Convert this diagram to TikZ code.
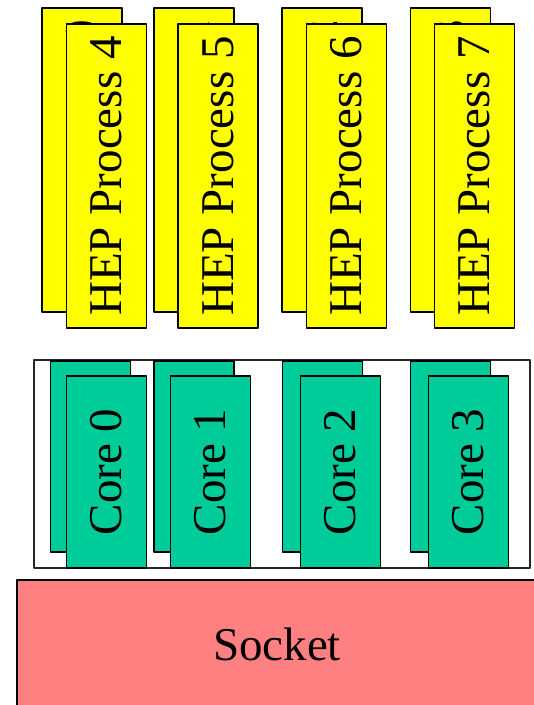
\documentclass[tikz,border=0pt]{standalone}
\usepackage{fontspec}
\setmainfont{Liberation Serif}
\definecolor{hepyellow}{RGB}{255,255,0}
\definecolor{coregreen}{RGB}{0,204,153}
\definecolor{socketred}{RGB}{255,128,128}
\begin{document}
\begin{tikzpicture}[
        x=1pt, y=-1pt,
        line join=round,
        % 卡片样式
        card/.style={draw=black, line width=1.5pt, inner sep=0pt, rotate=90,
            minimum height=80pt, font=\fontsize{47}{50}\selectfont},
        hep/.style={card, fill=hepyellow, minimum width=304pt},
        core/.style={card, fill=coregreen, minimum width=191pt},
        chip/.style={draw=black!85, line width=1.5pt, fill=white, inner sep=0pt,
            minimum width=496pt, minimum height=208pt},
        socket/.style={draw=black, line width=1.5pt, fill=socketred, inner sep=0pt,
            minimum width=520pt, minimum height=128pt, font=\fontsize{47}{50}\selectfont},
    ]
    \useasboundingbox (0,0) rectangle (534,705);

    % 进程（后面一层为 0--3，前面一层为 4--7）
    \foreach \bx/\fx/\n/\m in {82/106.5/0/4, 194/218/1/5, 322/346.5/2/6, 450.5/474.5/3/7} {
        \node[hep] (hep\n) at (\bx,160) {HEP Process \n};
        \node[hep] (hep\m) at (\fx,176) {HEP Process \m};
    }

    % 芯片外框
    \node[chip] (chip) at (282,464) {};

    % 核心
    \foreach \bx/\fx/\n in {90.5/106.5/0, 194/210.5/1, 322.5/340.5/2, 450.5/468.5/3} {
        \node[core] (coreb\n) at (\bx,456.5) {};
        \node[core, minimum width=192pt] (core\n) at (\fx,472) {Core \n};
    }

    % 插槽
    \node[socket] (socket) at (277,644) {Socket};
\end{tikzpicture}
\end{document}
